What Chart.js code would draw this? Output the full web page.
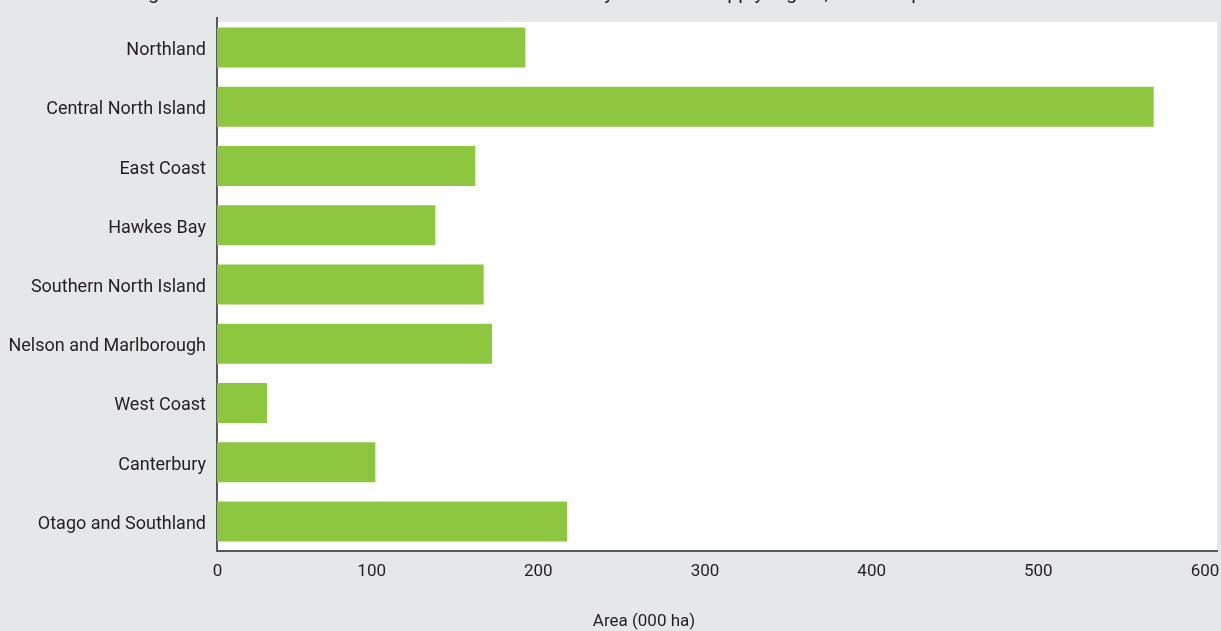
<!DOCTYPE html>
<html lang="en">
<head>
    <meta charset="UTF-8">
    <title>Area by wood supply region</title>
    <script src="https://cdn.jsdelivr.net/npm/chart.js@4/dist/chart.umd.min.js"></script>
    <style>
        * {
            margin: 0;
            padding: 0;
            box-sizing: border-box;
        }

        body {
            background: #e6e7e8;
            width: 1221px;
            height: 631px;
            overflow: hidden;
        }

        .chart-container {
            position: relative;
            width: 1221px;
            height: 631px;
        }
    </style>
</head>
<body>
    <div class="chart-container">
        <canvas id="areaChart"></canvas>
    </div>

    <script>
        // regions and area values (000 ha)
        const regions = [
            'Northland',
            'Central North Island',
            'East Coast',
            'Hawkes Bay',
            'Southern North Island',
            'Nelson and Marlborough',
            'West Coast',
            'Canterbury',
            'Otago and Southland'
        ];
        const areaValues = [185, 562, 155, 131, 160, 165, 30, 95, 210];
        const xTicks = [0, 100, 200, 300, 400, 500, 600];

        const chartTitle = 'Figure 3: Net stocked forest area in hectares shown by the wood supply region, as at 1 April 2016';
        const axisTitle = 'Area (000 ha)';

        const textColor = '#231f20';
        const axisColor = '#58595b';
        const fontFamily = "Roboto, 'Noto Sans', sans-serif";

        // white plot background, clipped title at top, x axis caption
        const decorations = {
            id: 'decorations',
            beforeDraw(chart) {
                const { ctx, chartArea } = chart;
                ctx.save();
                ctx.fillStyle = '#ffffff';
                ctx.fillRect(chartArea.left, chartArea.top + 4, chartArea.right - chartArea.left, chartArea.bottom - chartArea.top - 5);
                ctx.restore();
            },
            afterDraw(chart) {
                const { ctx } = chart;
                ctx.save();
                ctx.fillStyle = textColor;
                ctx.font = '20px ' + fontFamily;
                ctx.textAlign = 'left';
                ctx.textBaseline = 'alphabetic';
                ctx.fillText(chartTitle, 132, -1);

                ctx.font = '17px ' + fontFamily;
                ctx.textAlign = 'center';
                ctx.textBaseline = 'middle';
                ctx.fillText(axisTitle, 644, 622);
                ctx.restore();
            }
        };

        new Chart(document.getElementById('areaChart'), {
            type: 'bar',
            data: {
                labels: regions,
                datasets: [{
                    label: axisTitle,
                    data: areaValues,
                    backgroundColor: '#8dc63f',
                    borderWidth: 0,
                    barPercentage: 0.9,
                    categoryPercentage: 0.75
                }]
            },
            options: {
                indexAxis: 'y',
                responsive: true,
                maintainAspectRatio: false,
                animation: false,
                layout: {
                    padding: { top: 18, right: 4, left: 0, bottom: 0 }
                },
                plugins: {
                    legend: { display: false },
                    tooltip: { enabled: false }
                },
                scales: {
                    x: {
                        min: xTicks[0],
                        max: xTicks[xTicks.length - 1],
                        afterBuildTicks(scale) {
                            scale.ticks = xTicks.map(v => ({ value: v }));
                        },
                        afterFit(scale) {
                            scale.height = 80;
                            scale.paddingLeft = 0;
                            scale.paddingRight = 0;
                        },
                        grid: { display: false, drawTicks: false },
                        border: { display: true, color: axisColor, width: 2 },
                        ticks: {
                            color: textColor,
                            padding: 11,
                            labelOffset: -12,
                            maxRotation: 0,
                            font: { family: fontFamily, size: 17 },
                            callback: v => (v === 0 ? '      0' : String(v))
                        }
                    },
                    y: {
                        afterFit(scale) {
                            scale.width = 217;
                            scale.paddingTop = 0;
                            scale.paddingBottom = 0;
                        },
                        grid: { display: false, drawTicks: false },
                        border: { display: true, color: axisColor, width: 2 },
                        ticks: {
                            color: textColor,
                            padding: 11,
                            labelOffset: 3,
                            font: { family: fontFamily, size: 18 }
                        }
                    }
                }
            },
            plugins: [decorations]
        });
    </script>
</body>
</html>
